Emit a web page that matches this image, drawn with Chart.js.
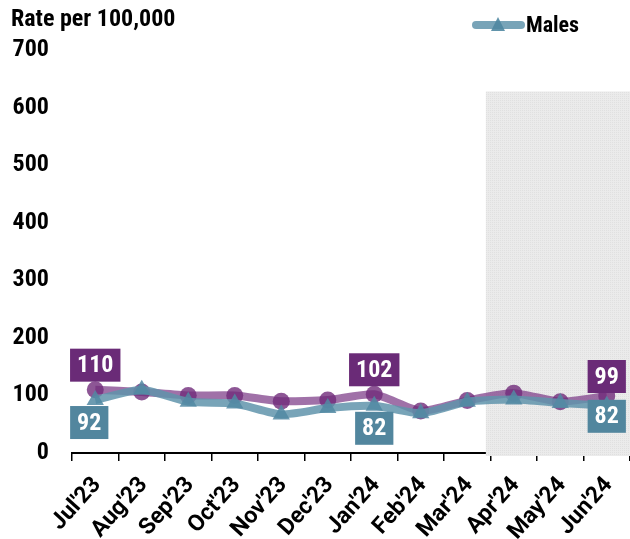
<!DOCTYPE html>
<html><head><meta charset="utf-8">
<script src="https://cdn.jsdelivr.net/npm/chart.js@4.4.1/dist/chart.umd.min.js"></script>
<style>html,body{margin:0;padding:0;background:#fff}#wrap{width:630px;height:539px;position:relative}</style>
</head><body><div id="wrap"><canvas id="c" width="630" height="539"></canvas></div>
<script>
const categories = ["Jul'23","Aug'23","Sep'23","Oct'23","Nov'23","Dec'23","Jan'24","Feb'24","Mar'24","Apr'24","May'24","Jun'24"];
const femalesRate = [110, 106, 100, 100, 90, 92, 102, 73, 91, 104, 89, 99];
const malesRate = [92, 110, 89, 86, 67, 78, 82, 69, 89, 93, 87, 82];
const yTicks = [0, 100, 200, 300, 400, 500, 600, 700];
const labelledIndices = [0, 6, 11];
const shadeFrom = 8.4;
const shadeTop = 628;

const FONT = "'Roboto Condensed','Liberation Sans Narrow','Roboto',sans-serif";
const XFONT = "'Roboto','Liberation Sans',sans-serif";
const PURPLE_BOX = '#6A2B77';
const TEAL_BOX = '#52869E';
const TEAL_LINE = 'rgba(96,148,172,0.85)';
const PURPLE_LINE = 'rgba(124,58,134,0.72)';

function makePattern(ctx){
  const p = document.createElement('canvas'); p.width = 4; p.height = 4;
  const g = p.getContext('2d');
  g.fillStyle = '#EBEBEB'; g.fillRect(0,0,4,4);
  g.fillStyle = '#E0E0E0';
  g.fillRect(0,0,1,1); g.fillRect(2,2,1,1); g.fillRect(2,0,1,1); g.fillRect(0,2,1,1);
  return ctx.createPattern(p, 'repeat');
}

const shadePlugin = {
  id: 'shade',
  beforeDatasetsDraw(chart){
    const {ctx, scales:{x, y}} = chart;
    const x0 = x.getPixelForValue(shadeFrom);
    const yTop = y.getPixelForValue(shadeTop);
    ctx.save();
    ctx.fillStyle = makePattern(ctx);
    ctx.fillRect(x0, yTop, chart.width - x0, y.getPixelForValue(0) + 3 - yTop);
    ctx.restore();
  }
};

const xLabelPlugin = {
  id: 'xLabels',
  afterDraw(chart){
    const {ctx, scales:{x}} = chart;
    const labels = x.getLabels();
    const ang = 48 * Math.PI / 180;
    ctx.save();
    ctx.fillStyle = '#000';
    ctx.font = 'bold 23px ' + XFONT;
    ctx.textAlign = 'right';
    ctx.textBaseline = 'middle';
    labels.forEach((lab, i) => {
      const px = x.getPixelForTick(i);
      ctx.save();
      ctx.translate(px + 2, x.top + 28);
      ctx.rotate(-ang);
      ctx.fillText(lab, 0, 0);
      ctx.restore();
    });
    ctx.restore();
  }
};

const labelPlugin = {
  id: 'boxLabels',
  afterDatasetsDraw(chart){
    const {ctx} = chart;
    ctx.save();
    ctx.font = 'bold 24px ' + FONT;
    ctx.textAlign = 'center';
    ctx.textBaseline = 'middle';
    chart.data.datasets.forEach((ds, di) => {
      const meta = chart.getDatasetMeta(di);
      const above = ds.labelAbove;
      labelledIndices.forEach((i, k) => {
        const pt = meta.data[i];
        const txt = String(ds.data[i]);
        const w = ctx.measureText(txt).width + 14;
        const h = 33;
        const last = (k === labelledIndices.length - 1);
        let cx = pt.x;
        let top;
        if (above) top = pt.y - (last ? 3 : 8) - h;
        else top = pt.y + (last ? -6 : 6);
        if (!above && i === 0) cx -= 6;
        let left = cx - w/2;
        if (left + w > chart.width - 3) left = chart.width - 3 - w;
        ctx.fillStyle = ds.boxColor;
        ctx.fillRect(left, top, w, h);
        ctx.fillStyle = '#fff';
        ctx.fillText(txt, left + w/2, top + h/2 + 1);
      });
    });
    ctx.restore();
  }
};

const headerPlugin = {
  id: 'header',
  afterDraw(chart){
    const {ctx} = chart;
    ctx.save();
    ctx.fillStyle = '#000';
    ctx.font = 'bold 24px ' + FONT;
    ctx.textAlign = 'left';
    ctx.textBaseline = 'middle';
    ctx.fillText('Rate per 100,000', 11, 20);
    ctx.strokeStyle = TEAL_LINE;
    ctx.lineWidth = 8;
    ctx.lineCap = 'round';
    ctx.beginPath(); ctx.moveTo(476, 25); ctx.lineTo(521, 25); ctx.stroke();
    ctx.fillStyle = 'rgba(80,136,162,0.9)';
    ctx.beginPath(); ctx.moveTo(498, 17); ctx.lineTo(505, 31); ctx.lineTo(491, 31); ctx.closePath(); ctx.fill();
    ctx.fillStyle = '#000';
    ctx.font = 'bold 22px ' + FONT;
    ctx.fillText('Males', 526, 26);
    ctx.restore();
  }
};

new Chart(document.getElementById('c'), {
  type: 'line',
  data: {
    labels: categories,
    datasets: [
      {
        label: 'Males', data: malesRate, order: 0, labelAbove: false, boxColor: TEAL_BOX,
        borderColor: TEAL_LINE, borderWidth: 8, tension: 0.2,
        pointStyle: 'triangle', pointRadius: 10, pointBackgroundColor: 'rgba(82,138,163,0.85)', pointBorderWidth: 0
      },
      {
        label: 'Females', data: femalesRate, order: 1, labelAbove: true, boxColor: PURPLE_BOX,
        borderColor: PURPLE_LINE, borderWidth: 8, tension: 0.2,
        pointStyle: 'circle', pointRadius: 8.5, pointBackgroundColor: 'rgba(112,44,122,0.8)', pointBorderWidth: 0
      }
    ]
  },
  options: {
    responsive: false, animation: false, devicePixelRatio: 1,
    layout: { autoPadding: false, padding: { top: 50, right: 0, left: 0, bottom: 0 } },
    plugins: { legend: { display: false }, tooltip: { enabled: false } },
    scales: {
      y: {
        min: 0, max: 700,
        afterBuildTicks: s => { s.ticks = yTicks.map(v => ({value: v})); },
        afterFit: s => { s.width = 72; s.paddingTop = 0; s.paddingBottom = 0; },
        grid: { display: false, drawTicks: false },
        border: { display: false },
        ticks: { color: '#000', font: { family: FONT, size: 24, weight: 'bold' }, padding: 23 }
      },
      x: {
        offset: true,
        afterFit: s => { s.height = 86; s.paddingRight = 0; s.paddingLeft = 0; },
        grid: { offset: true, drawOnChartArea: false, drawTicks: true, tickLength: 8, color: '#000', lineWidth: 1.5 },
        border: { display: true, color: '#000', width: 2 },
        ticks: { display: false, autoSkip: false }
      }
    }
  },
  plugins: [shadePlugin, labelPlugin, headerPlugin, xLabelPlugin]
});
</script></body></html>
